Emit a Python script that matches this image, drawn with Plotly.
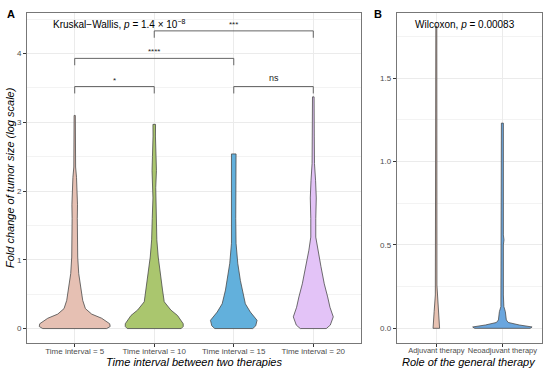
import plotly.graph_objects as go

# ---------------- data ----------------
groups_a = ["Time interval = 5", "Time interval = 10", "Time interval = 15", "Time interval = 20"]
colors_a = ["#E6C0B3", "#AAC66E", "#62B0DC", "#E3C3F7"]

# violin density profiles: value levels and half-widths (px at 79.6 px / category)
v1_y = [0, 0.03, 0.07, 0.15, 0.21, 0.29, 0.41, 0.56, 0.8, 1.04, 1.3, 1.6, 1.8, 2.0, 2.2, 2.35, 2.6, 2.9, 3.1]
v1_w = [32, 35.5, 35, 27, 17, 10.7, 8, 6.3, 4, 3, 2.5, 2.6, 2.8, 2.5, 1.8, 0.9, 0.7, 0.6, 0.6]
v2_y = [0, 0.03, 0.07, 0.19, 0.27, 0.39, 0.56, 0.8, 1.04, 1.29, 1.6, 1.9, 2.05, 2.3, 2.5, 2.6, 2.8, 2.97]
v2_w = [27, 29, 29, 23.3, 16.6, 10, 8.3, 6, 4, 2.6, 2, 1.3, 1.5, 2.2, 1.8, 1.2, 1.2, 1.3]
v3_y = [0, 0.04, 0.12, 0.24, 0.36, 0.56, 0.7, 0.95, 1.24, 1.6, 2.0, 2.3, 2.54]
v3_w = [19, 22, 23.3, 16.6, 11.6, 8.3, 6.6, 4, 2.3, 2, 2.2, 2.3, 2.3]
v4_y = [0, 0.05, 0.17, 0.31, 0.46, 0.65, 0.9, 1.14, 1.33, 1.6, 1.9, 2.15, 2.4, 2.8, 3.37]
v4_w = [13, 17, 20, 16.7, 14.4, 11, 7.7, 4.4, 2.5, 2.5, 3, 2.3, 1.2, 1, 0.8]
profiles_a = [(v1_y, v1_w), (v2_y, v2_w), (v3_y, v3_w), (v4_y, v4_w)]
px_per_cat_a = 79.6

groups_b = ["Adjuvant therapy", "Neoadjuvant therapy"]
colors_b = ["#E8C2B2", "#6AA6DE"]
b1_y = [0, 0.1, 0.2, 0.26, 0.5, 1.0, 1.5, 1.81]
b1_w = [3.3, 2.2, 1, 0.6, 0.6, 0.6, 0.5, 0.5]
b2_y = [0, 0.008, 0.02, 0.035, 0.05, 0.08, 0.1, 0.13, 0.2, 0.5, 0.53, 0.56, 1.0, 1.03, 1.06, 1.23]
b2_w = [28, 30, 17, 6, 4, 3.5, 3, 1.5, 1, 1, 1.6, 1, 1, 1.6, 1, 1]
profiles_b = [(b1_y, b1_w), (b2_y, b2_w)]
px_per_cat_b = 66.7

# significance brackets: (group i, group j, level, label)
brackets = [(0, 1, 3.52, "*"), (2, 3, 3.52, "ns"), (0, 2, 3.93, "****"), (1, 3, 4.33, "***")]
bracket_tip = 0.1

kw_text = "Kruskal−Wallis, <i>p</i> = 1.4 × 10<sup>−8</sup>"
wx_text = "Wilcoxon, <i>p</i> = 0.00083"

# ---------------- figure ----------------
W, H = 550, 373
fig = go.Figure()

def add_violin(center, ys, ws, scale, color, xa, ya):
    hw = [w / scale for w in ws]
    xs = [center + h for h in hw] + [center - h for h in reversed(hw)] + [center + hw[0]]
    yy = list(ys) + list(reversed(ys)) + [ys[0]]
    fig.add_trace(go.Scatter(x=xs, y=yy, mode="lines", fill="toself", fillcolor=color,
                             line=dict(color="#4a4a4a", width=0.8), hoverinfo="skip",
                             showlegend=False, xaxis=xa, yaxis=ya))

for i, (ys, ws) in enumerate(profiles_a):
    add_violin(i, ys, ws, px_per_cat_a, colors_a[i], "x", "y")
for i, (ys, ws) in enumerate(profiles_b):
    add_violin(i, ys, ws, px_per_cat_b, colors_b[i], "x2", "y2")

for (a, b, lvl, lab) in brackets:
    fig.add_trace(go.Scatter(x=[a, a, b, b], y=[lvl - bracket_tip, lvl, lvl, lvl - bracket_tip],
                             mode="lines", line=dict(color="#555555", width=0.9),
                             hoverinfo="skip", showlegend=False, xaxis="x", yaxis="y"))
    fig.add_annotation(x=(a + b) / 2, y=lvl, xref="x", yref="y", text=lab, showarrow=False,
                       yanchor="bottom", yshift=2 if lab == "ns" else 0,
                       font=dict(size=9 if lab == "ns" else 8, color="#222222"))

def px_x(p):
    return p / W

def px_y(p):
    return 1 - p / H

grid = "#EBEBEB"
axis_common = dict(showline=True, linecolor="#777777", linewidth=1, mirror=True,
                   ticks="outside", ticklen=3, tickcolor="#333333", tickwidth=0.8,
                   showgrid=True, gridcolor=grid, gridwidth=0.8, zeroline=False,
                   automargin=False, tickangle=0)
tick_font = dict(family="Liberation Sans, Arial", size=8, color="#4D4D4D")
tick_font_b = dict(family="Liberation Sans, Arial", size=7.5, color="#4D4D4D")

fig.update_layout(
    width=W, height=H, margin=dict(l=0, r=0, t=0, b=0),
    paper_bgcolor="white", plot_bgcolor="white",
    font=dict(family="Liberation Sans, Arial"),
    xaxis=dict(domain=[px_x(27), px_x(361)], range=[-0.6, 3.6], tickvals=[0, 1, 2, 3],
               ticktext=groups_a, anchor="y", tickfont=tick_font, ticklabelstandoff=-3,
               **axis_common),
    yaxis=dict(domain=[px_y(343), px_y(13)], range=[-0.21, 4.59], tickvals=[0, 1, 2, 3, 4],
               anchor="x", tickfont=tick_font,
               minor=dict(showgrid=True, gridcolor="#F3F3F3", gridwidth=0.5,
                          tickvals=[0.5, 1.5, 2.5, 3.5, 4.5], ticks=""),
               **axis_common),
    xaxis2=dict(domain=[px_x(396.7), px_x(542)], range=[-0.6, 1.6], tickvals=[0, 1],
                ticktext=groups_b, anchor="y2", tickfont=tick_font_b, ticklabelstandoff=-3,
                **axis_common),
    yaxis2=dict(domain=[px_y(343), px_y(13)], range=[-0.088, 1.89], tickvals=[0, 0.5, 1.0, 1.5],
                tickformat=".1f", anchor="x2", tickfont=tick_font,
                minor=dict(showgrid=True, gridcolor="#F3F3F3", gridwidth=0.5,
                           tickvals=[0.25, 0.75, 1.25, 1.75], ticks=""),
                **axis_common),
)

ann_font = dict(family="Liberation Sans, Arial", color="black")
fig.add_annotation(x=px_x(51), y=px_y(24), xref="paper", yref="paper", text=kw_text,
                   showarrow=False, xanchor="left", yanchor="middle", font=dict(size=10, **ann_font))
fig.add_annotation(x=px_x(465), y=px_y(24), xref="paper", yref="paper", text=wx_text,
                   showarrow=False, xanchor="center", yanchor="middle", font=dict(size=10, **ann_font))
fig.add_annotation(x=px_x(5), y=px_y(14), xref="paper", yref="paper", text="<b>A</b>",
                   showarrow=False, xanchor="left", yanchor="middle", font=dict(size=11, **ann_font))
fig.add_annotation(x=px_x(372), y=px_y(14), xref="paper", yref="paper", text="<b>B</b>",
                   showarrow=False, xanchor="left", yanchor="middle", font=dict(size=11, **ann_font))
fig.add_annotation(x=px_x(194), y=px_y(361.5), xref="paper", yref="paper",
                   text="<i>Time interval between two therapies</i>", showarrow=False,
                   xanchor="center", yanchor="middle", font=dict(size=11, **ann_font))
fig.add_annotation(x=px_x(469), y=px_y(361.5), xref="paper", yref="paper",
                   text="<i>Role of the general therapy</i>", showarrow=False,
                   xanchor="center", yanchor="middle", font=dict(size=11, **ann_font))
fig.add_annotation(x=px_x(10), y=px_y(178), xref="paper", yref="paper",
                   text="<i>Fold change of tumor size (log scale)</i>", showarrow=False,
                   textangle=-90, xanchor="center", yanchor="middle", font=dict(size=11, **ann_font))

fig.write_html("out.html", config={"displayModeBar": False},
               post_script="document.body.style.margin='0';document.body.style.overflow='hidden';")
